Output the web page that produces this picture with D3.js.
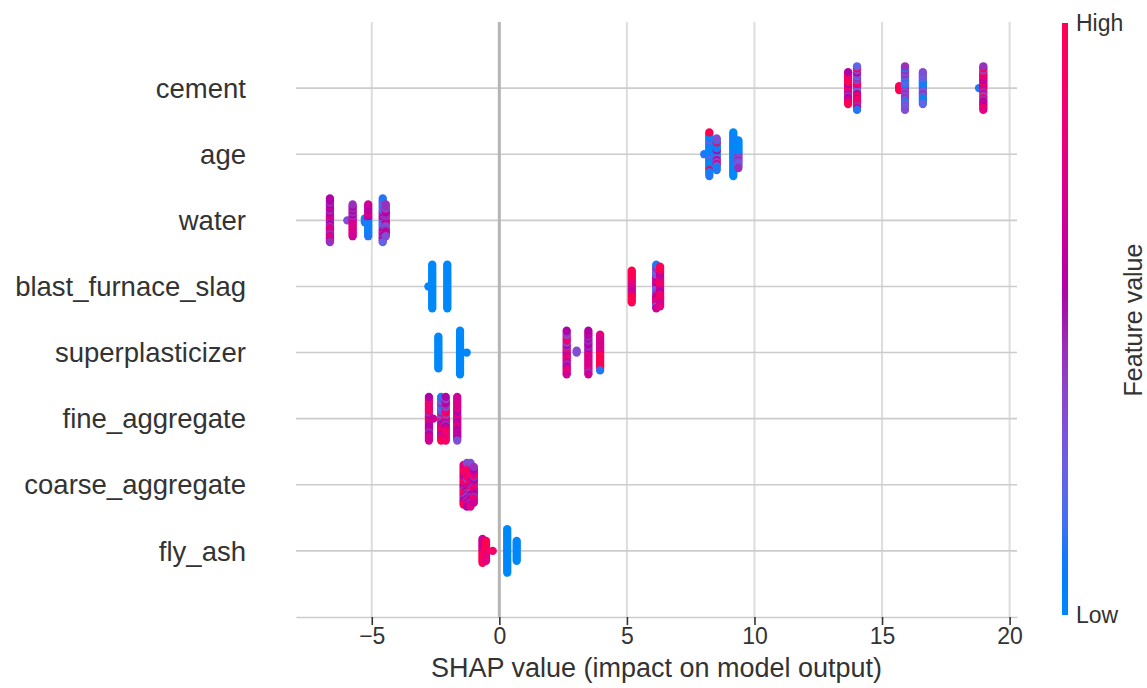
<!DOCTYPE html>
<html>
<head>
<meta charset="utf-8">
<script src="https://cdn.jsdelivr.net/npm/d3@7"></script>
<style>
  body { margin: 0; background: #fff; }
  text { font-family: "Liberation Sans", Arial, sans-serif; fill: #333; }
</style>
</head>
<body>
<div class="canva"></div>
<script>
// features, top to bottom
const features = ['cement', 'age', 'water', 'blast_furnace_slag', 'superplasticizer',
  'fine_aggregate', 'coarse_aggregate', 'fly_ash']

// each entry: [shap value, feature values of the points at that spot, 0 = low .. 9 = high]
const cement = [
  [13.67, '67957969495769759'],
  [14.02, '49372953946293759349621'],
  [15.67, '999'],
  [15.90, '32413242314234132431243'],
  [16.60, '21312041321302132'],
  [18.80, '1'],
  [18.97, '75964975369747596359947']
]
const age = [
  [8.03, '1'],
  [8.23, '01001020100102019010091'],
  [8.52, '31052160317921031'],
  [9.17, '01000100100010010001000'],
  [9.37, '304030403020304']
]
const water = [
  [-6.64, '56475645746576456475654'],
  [-5.96, '3'],
  [-5.75, '65746574657465746'],
  [-5.27, '101'],
  [-5.14, '16051607150615061'],
  [-4.57, '24351425314253415243512'],
  [-4.45, '43546435364354643']
]
const blastFurnaceSlag = [
  [-2.78, '0'],
  [-2.63, '00000000000000000000000'],
  [-2.04, '00000000000000000000000'],
  [5.19, '67676767699999999'],
  [6.15, '46352637456253728464216'],
  [6.30, '976967597696759769697']
]
const superplasticizer = [
  [-2.39, '00000000000000000'],
  [-1.54, '00000000000000000000000'],
  [-1.28, '0'],
  [2.64, '47586485736847586374856'],
  [3.03, '33'],
  [3.49, '64757465756475647576456'],
  [3.95, '9796979697969796971']
]
const fineAggregate = [
  [-2.76, '67957468575967485768756'],
  [-2.59, '6'],
  [-2.28, '31924851736291845273619'],
  [-2.10, '95736947586374957683758'],
  [-1.65, '56675665766756675667563']
]
const coarseAggregate = [
  [-1.40, '795869478596794859679'],
  [-1.27, '48697358496738594869735'],
  [-1.13, '69584796385947695849637'],
  [-1.00, '5746857468574685746']
]
const flyAsh = [
  [-0.66, '9696969696969'],
  [-0.52, '89798979897'],
  [-0.26, '8'],
  [0.31, '00000000000000000000000'],
  [0.68, '00000000000']
]
const rows = [cement, age, water, blastFurnaceSlag, superplasticizer, fineAggregate, coarseAggregate, flyAsh]

const xTicks = [-5, 0, 5, 10, 15, 20]
const xTitle = 'SHAP value (impact on model output)'
const colorbarLabels = ['Low', 'High']
const colorbarTitle = 'Feature value'

//Add Svg Element
const svg = d3.select('.canva').append('svg')
  .attr('width', 1147)
  .attr('height', 688)

const x = d3.scaleLinear().domain([-7.97, 20.29]).range([296, 1017])
const y = d3.scaleLinear().domain([-1, features.length]).range([617, 22])
const rowPos = i => features.length - 1 - i

// shap red_blue colormap (lch ramp)
function shapColor(t) {
  const l = t < 0.5 ? 54 - 28 * t : 40 + 28 * (t - 0.5)
  const c = 70 + 20 * t
  const h = 266.93 + 113.39 * t
  return d3.hcl(h, c, l).formatHex()
}

// vertical grid
svg.append('g').selectAll('line')
  .data(xTicks.filter(t => t !== 0))
  .enter().append('line')
  .attr('x1', d => x(d)).attr('x2', d => x(d))
  .attr('y1', y(features.length)).attr('y2', y(-1))
  .attr('stroke', '#dddddd')
  .attr('stroke-width', 2)

// row lines
svg.append('g').selectAll('line')
  .data(features)
  .enter().append('line')
  .attr('x1', x.range()[0]).attr('x2', x.range()[1])
  .attr('y1', (d, i) => y(rowPos(i))).attr('y2', (d, i) => y(rowPos(i)))
  .attr('stroke', '#cccccc')
  .attr('stroke-width', 1.6)

// zero line
svg.append('line')
  .attr('x1', x(0)).attr('x2', x(0))
  .attr('y1', y(features.length)).attr('y2', y(-1))
  .attr('stroke', '#b5b5b5')
  .attr('stroke-width', 3)

// beeswarm layout, same as shap's
function swarm(clusters) {
  const pts = []
  clusters.forEach(([s, code]) => code.split('').forEach(ch => pts.push({ s: s, v: +ch / 9 })))
  const lo = d3.min(pts, d => d.s), hi = d3.max(pts, d => d.s)
  pts.forEach((d, i) => { d.q = Math.round(100 * (d.s - lo) / (hi - lo + 1e-8)); d.i = i })
  const order = pts.slice().sort((a, b) => a.q - b.q || a.i - b.i)
  let layer = 0, last = -1
  order.forEach(d => {
    if (d.q !== last) layer = 0
    d.ys = Math.ceil(layer / 2) * ((layer % 2) * 2 - 1)
    layer++
    last = d.q
  })
  const m = d3.max(pts, d => d.ys + 1)
  pts.forEach(d => { d.ys *= 0.9 * (0.4 / m) })
  return pts
}

rows.forEach((clusters, i) => {
  svg.append('g').selectAll('circle')
    .data(swarm(clusters))
    .enter().append('circle')
    .attr('cx', d => x(d.s))
    .attr('cy', d => y(rowPos(i) + d.ys))
    .attr('r', 4.15)
    .attr('fill', d => shapColor(d.v))
})

// y labels
svg.append('g').selectAll('text')
  .data(features)
  .enter().append('text')
  .text(d => d)
  .attr('x', 246)
  .attr('y', (d, i) => y(rowPos(i)))
  .attr('dy', '0.35em')
  .attr('text-anchor', 'end')
  .attr('font-size', '27.5px')

// x axis
const xAxis = svg.append('g')
  .attr('transform', `translate(0,${y(-1)})`)
  .call(d3.axisBottom(x).tickValues(xTicks).tickSize(8).tickSizeOuter(0).tickPadding(3)
    .tickFormat(d => d < 0 ? '\u2212' + Math.abs(d) : d))
xAxis.select('.domain').attr('stroke', '#cccccc').attr('stroke-width', 1.6)
xAxis.selectAll('.tick line').attr('stroke', '#333').attr('stroke-width', 1.6)
xAxis.selectAll('.tick text').attr('font-size', '23px').attr('fill', '#333')
  .style('font-family', '"Liberation Sans", Arial, sans-serif')

svg.append('text')
  .text(xTitle)
  .attr('x', (x.range()[0] + x.range()[1]) / 2)
  .attr('y', 677)
  .attr('text-anchor', 'middle')
  .attr('font-size', '27px')

// colorbar
const grad = svg.append('defs').append('linearGradient')
  .attr('id', 'cbar')
  .attr('x1', 0).attr('x2', 0).attr('y1', 1).attr('y2', 0)
grad.selectAll('stop')
  .data(d3.range(0, 1.0001, 0.05))
  .enter().append('stop')
  .attr('offset', d => d)
  .attr('stop-color', d => shapColor(d))

const cb = d3.scaleLinear().domain([0, 1]).range([615, 23])
svg.append('rect')
  .attr('x', 1062)
  .attr('y', cb(1))
  .attr('width', 6)
  .attr('height', cb(0) - cb(1))
  .attr('fill', 'url(#cbar)')

svg.append('g').selectAll('text')
  .data(colorbarLabels)
  .enter().append('text')
  .text(d => d)
  .attr('x', 1076)
  .attr('y', (d, i) => cb(i))
  .attr('dy', '0.35em')
  .attr('font-size', '23px')

svg.append('text')
  .text(colorbarTitle)
  .attr('transform', 'translate(1133,320) rotate(-90)')
  .attr('dy', '0.35em')
  .attr('text-anchor', 'middle')
  .attr('font-size', '25px')
</script>
</body>
</html>
